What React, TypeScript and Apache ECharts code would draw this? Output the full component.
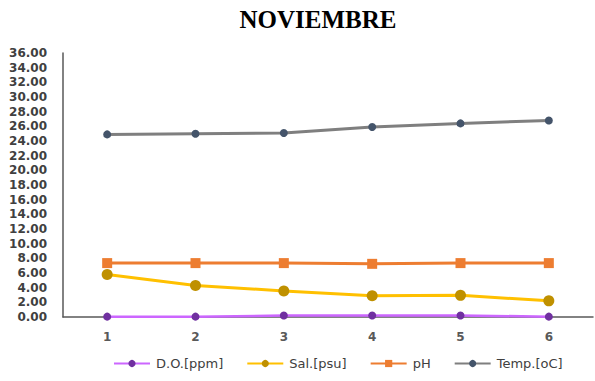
import React, { useEffect, useRef } from "react";
import * as echarts from "echarts";

const categories = ["1", "2", "3", "4", "5", "6"];
const doPpm = [0.05, 0.05, 0.2, 0.2, 0.2, 0.05];
const salPsu = [5.8, 4.3, 3.55, 2.9, 2.95, 2.2];
const ph = [7.35, 7.35, 7.35, 7.25, 7.35, 7.35];
const tempC = [24.9, 25.0, 25.1, 25.9, 26.4, 26.8];

const labelFont = "DejaVu Sans";

export default function App() {
  const ref = useRef<HTMLDivElement>(null);

  useEffect(() => {
    if (!ref.current) return;
    const chart = echarts.init(ref.current, undefined, { renderer: "svg" });
    const line = (name: string, data: number[], lineColor: string, markColor: string, symbol: string, size: number, width: number) => ({
      name,
      type: "line",
      data,
      symbol,
      symbolSize: size,
      showSymbol: true,
      lineStyle: { color: lineColor, width },
      itemStyle: { color: markColor },
      emphasis: { disabled: true },
    });
    chart.setOption({
      animation: false,
      backgroundColor: "#ffffff",
      title: {
        text: "NOVIEMBRE",
        left: 313,
        textAlign: "center",
        top: 2,
        textStyle: { fontFamily: "Liberation Serif", fontWeight: "bold", fontSize: 25, color: "#000000" },
      },
      legend: {
        bottom: 6,
        left: 108,
        itemWidth: 36,
        itemHeight: 9,
        itemGap: 23,
        textStyle: { fontFamily: labelFont, fontSize: 13, color: "#404040", padding: [0, 0, 0, 1] },
        data: ["D.O.[ppm]", "Sal.[psu]", "pH", "Temp.[oC]"],
      },
      grid: { left: 63, right: 2, top: 53, bottom: 64 },
      xAxis: {
        type: "category",
        data: categories,
        boundaryGap: true,
        axisLine: { show: true, lineStyle: { color: "#595959", width: 1.5 } },
        axisTick: { show: false },
        axisLabel: { fontFamily: labelFont, fontWeight: "bold", fontSize: 12, color: "#595959", margin: 14 },
      },
      yAxis: {
        type: "value",
        min: 0,
        max: 36,
        interval: 2,
        axisLine: { show: true, lineStyle: { color: "#595959", width: 1.5 } },
        axisTick: { show: false },
        splitLine: { show: false },
        axisLabel: {
          fontFamily: labelFont,
          fontWeight: "bold",
          fontSize: 12,
          color: "#404040",
          margin: 16,
          formatter: (v: number) => v.toFixed(2),
        },
      },
      series: [
        line("D.O.[ppm]", doPpm, "#cc66ff", "#7030a0", "circle", 8, 2.5),
        line("Sal.[psu]", salPsu, "#ffc000", "#bf9000", "circle", 11, 3),
        line("pH", ph, "#ed7d31", "#ed7d31", "rect", 10, 3),
        line("Temp.[oC]", tempC, "#7f7f7f", "#44546a", "circle", 8, 3),
      ],
    });
    return () => chart.dispose();
  }, []);

  return <div ref={ref} style={{ width: 595, height: 381, position: "absolute", left: 0, top: 0 }} />;
}
